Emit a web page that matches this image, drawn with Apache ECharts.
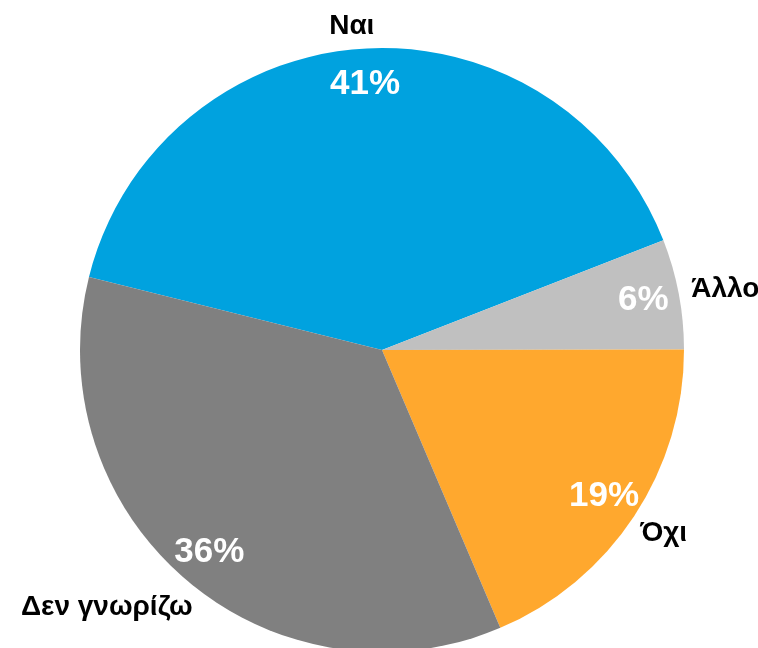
<!DOCTYPE html>
<html>
<head>
<meta charset="utf-8">
<script src="https://cdn.jsdelivr.net/npm/echarts@6/dist/echarts.min.js"></script>
<style>
  html, body { margin: 0; padding: 0; background: #fff; }
  #chart { width: 758px; height: 648px; }
</style>
</head>
<body>
<div id="chart"></div>
<script>
const categories = ['Ναι', 'Άλλο', 'Όχι', 'Δεν γνωρίζω'];
const values = [41, 6, 19, 36];
const colors = ['#00A2DF', '#C0C0C0', '#FFA82E', '#808080'];

// name labels sit a bit further out and are roughly centred, like in excel
const nameLineLen = [22, 26, 30, 36];
const nameDist = [-13, -13, -19, -30];

const chart = echarts.init(document.getElementById('chart'));
const FONT = 'Liberation Sans, Arial, sans-serif';

chart.setOption({
  animation: false,
  series: [
    {
      // slices + category names outside
      type: 'pie',
      center: [382, 350],
      radius: [0, 302],
      startAngle: 166,
      clockwise: true,
      avoidLabelOverlap: false,
      data: categories.map((name, i) => ({
        name,
        value: values[i],
        itemStyle: { color: colors[i] },
        label: { distanceToLabelLine: nameDist[i] },
        labelLine: { length: nameLineLen[i] }
      })),
      itemStyle: { borderWidth: 0 },
      label: {
        show: true,
        position: 'outside',
        formatter: '{b}',
        color: '#000',
        fontFamily: FONT,
        fontWeight: 'bold',
        fontSize: 28
      },
      labelLine: { show: false, length2: 0 },
      emphasis: { disabled: true }
    },
    {
      // percentage labels near the rim
      type: 'pie',
      center: [382, 350],
      radius: [224, 302],
      startAngle: 166,
      clockwise: true,
      silent: true,
      data: categories.map((name, i) => ({ name, value: values[i] })),
      itemStyle: { color: 'rgba(0,0,0,0)' },
      label: {
        show: true,
        position: 'inside',
        formatter: '{c}%',
        color: '#fff',
        fontFamily: FONT,
        fontWeight: 'bold',
        fontSize: 35
      },
      labelLine: { show: false },
      emphasis: { disabled: true }
    }
  ]
});
</script>
</body>
</html>
